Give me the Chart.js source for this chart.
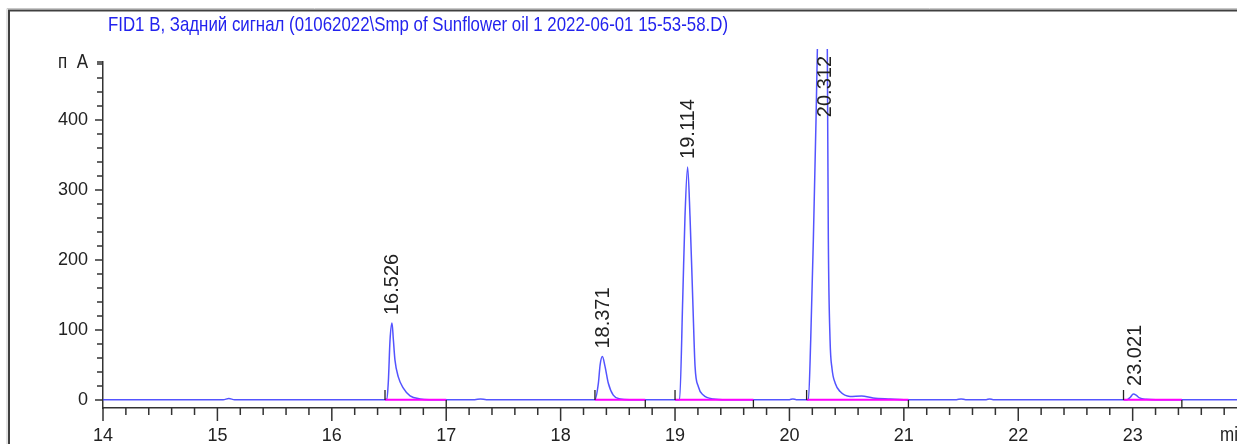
<!DOCTYPE html>
<html>
<head>
<meta charset="utf-8">
<script src="https://cdn.jsdelivr.net/npm/chart.js@4.4.1/dist/chart.umd.min.js"></script>
<style>
  html, body { margin: 0; padding: 0; background: #fff; }
  #wrap { width: 1237px; height: 444px; position: relative; }
</style>
</head>
<body>
<div id="wrap"><canvas id="myChart" width="1237" height="444"></canvas></div>
<script>
// chromatogram trace (min, pA)
var times = [14.00, 15.05, 15.10, 15.15, 16.46, 16.48, 16.494, 16.509, 16.526, 16.538, 16.552, 16.581, 16.625, 16.684, 16.771, 16.85,
    17.25, 17.30, 17.35, 18.30, 18.33, 18.345, 18.365, 18.388, 18.417, 18.46, 18.52, 18.60,
    19.04, 19.067, 19.087, 19.11, 19.131, 19.155, 19.175, 19.204, 19.247, 19.335, 19.45,
    20.00, 20.03, 20.06, 20.166, 20.186, 20.209, 20.233, 20.244, 20.28, 20.312, 20.331, 20.340, 20.355, 20.372, 20.40, 20.443, 20.53, 20.63, 20.73, 20.88, 21.00,
    21.46, 21.50, 21.54, 21.72, 21.75, 21.78, 22.95, 22.98, 23.006, 23.03, 23.06, 23.12, 23.20, 23.92];
var signal = [0.5, 0.5, 2, 0.5, 0.5, 1, 26, 86, 110, 86, 57, 33, 17, 6, 1.5, 0.5,
    0.5, 1.5, 0.5, 0.5, 24, 50, 62, 48, 24, 7, 1.5, 0.5,
    0.5, 143, 262, 333, 262, 143, 48, 19, 7, 1.5, 0.5,
    0.5, 1.5, 0.5, 0.5, 86, 229, 405, 500, 730, 790, 500, 229, 86, 45, 24, 12, 5, 5.7, 3, 1.5, 0.5,
    0.5, 1.5, 0.5, 0.5, 1.5, 0.5, 0.5, 4, 8.6, 7, 3, 1, 0.5, 0.5];

// integration baselines
var baseStart = [16.465, 18.30, 19.00, 20.15, 22.92];
var baseEnd = [17.00, 18.74, 19.685, 21.04, 23.43];

// peak labels
var peakTimes = [16.526, 18.371, 19.114, 20.312, 23.021];
var peakHeights = [110, 62, 333, 790, 8.6];
var peakLabels = ['16.526', '18.371', '19.114', '20.312', '23.021'];

// axes
var xTicks = [14, 15, 16, 17, 18, 19, 20, 21, 22, 23];
var yTicks = [0, 100, 200, 300, 400];

var titleText = 'FID1 B, Задний сигнал (01062022\\Smp of Sunflower oil 1 2022-06-01 15-53-58.D)';
var sans = "'Liberation Sans', Arial, sans-serif";

var datasets = [];
for (var i = 0; i < baseStart.length; i++) {
    datasets.push({
        data: [{x: baseStart[i], y: 0.3}, {x: baseEnd[i], y: 0.3}],
        borderColor: '#ff00ff',
        borderWidth: 2,
        pointRadius: 0,
        showLine: true,
        order: 0
    });
}
datasets.push({
    data: times.map(function (t, i) { return {x: t, y: signal[i]}; }),
    borderColor: 'rgba(40,40,255,0.8)',
    borderWidth: 1.5,
    pointRadius: 0,
    showLine: true,
    cubicInterpolationMode: 'monotone',
    clip: {left: 0, top: 13, right: 0, bottom: 0},
    order: 1
});

// squeezed text, the original uses a condensed face
function narrowText(ctx, text, x, y, size, scaleX, align) {
    ctx.save();
    ctx.font = size + 'px ' + sans;
    ctx.textBaseline = 'middle';
    ctx.textAlign = align;
    ctx.translate(x, y);
    ctx.scale(scaleX, 1);
    ctx.fillText(text, 0, 0);
    ctx.restore();
}

var extras = {
    id: 'extras',
    afterDraw: function (chart) {
        var ctx = chart.ctx;
        var xs = chart.scales.x, ys = chart.scales.y;
        var area = chart.chartArea;
        ctx.save();

        // frame
        ctx.strokeStyle = '#c8c8c8';
        ctx.lineWidth = 1;
        ctx.beginPath();
        ctx.moveTo(7, 444); ctx.lineTo(7, 8.5); ctx.lineTo(1237, 8.5);
        ctx.stroke();
        ctx.strokeStyle = '#404040';
        ctx.lineWidth = 2;
        ctx.beginPath();
        ctx.moveTo(9, 444); ctx.lineTo(9, 10.5); ctx.lineTo(1237, 10.5);
        ctx.stroke();

        // title
        ctx.fillStyle = '#2222ee';
        ctx.font = '21px ' + sans;
        var w = ctx.measureText(titleText).width;
        narrowText(ctx, titleText, 108, 25, 21, 620 / w, 'left');

        // unit labels
        ctx.fillStyle = '#222';
        narrowText(ctx, 'п  А', 88, 62, 20, 0.85, 'right');
        narrowText(ctx, 'min', 1220, 435, 20, 0.85, 'left');

        // axis ticks
        ctx.strokeStyle = '#333';
        ctx.lineWidth = 1.5;
        ctx.beginPath();
        for (var v = 0; v <= 480; v += 20) {
            var py = ys.getPixelForValue(v);
            var len = v % 100 === 0 ? 8 : 6;
            ctx.moveTo(area.left, py); ctx.lineTo(area.left - len, py);
        }
        ctx.moveTo(area.left, area.top); ctx.lineTo(area.left - 6, area.top);
        for (var k = 0; k < 50; k++) {
            var t = 14 + k * 0.2;
            var px = xs.getPixelForValue(t);
            var l = k % 5 === 0 ? 13 : 7;
            ctx.moveTo(px, area.bottom); ctx.lineTo(px, area.bottom + l);
        }
        ctx.stroke();

        // integration markers
        ctx.strokeStyle = '#222';
        ctx.lineWidth = 1.3;
        ctx.beginPath();
        var y0 = ys.getPixelForValue(0);
        baseStart.forEach(function (s) {
            var p = xs.getPixelForValue(s);
            ctx.moveTo(p, y0); ctx.lineTo(p, y0 - 10);
        });
        baseEnd.forEach(function (e) {
            var p = xs.getPixelForValue(e);
            ctx.moveTo(p, y0); ctx.lineTo(p, area.bottom);
        });
        ctx.stroke();

        // peak labels
        ctx.fillStyle = '#222';
        ctx.font = '20px ' + sans;
        ctx.textAlign = 'left';
        ctx.textBaseline = 'middle';
        peakTimes.forEach(function (pt, i) {
            var px = xs.getPixelForValue(pt);
            var tw = ctx.measureText(peakLabels[i]).width;
            var bottom = ys.getPixelForValue(peakHeights[i]) - 8;
            if (bottom - tw < area.top - 12) bottom = area.top - 12 + tw + 6;
            ctx.save();
            ctx.translate(px, bottom);
            ctx.rotate(-Math.PI / 2);
            ctx.fillText(peakLabels[i], 0, 0);
            ctx.restore();
        });
        ctx.restore();
    }
};

var ctx = document.getElementById('myChart').getContext('2d');
var myChart = new Chart(ctx, {
    type: 'scatter',
    data: {datasets: datasets},
    options: {
        responsive: false,
        animation: false,
        events: [],
        layout: {padding: {top: 62, left: 0, right: 0, bottom: 0}},
        plugins: {legend: {display: false}, tooltip: {enabled: false}},
        scales: {
            x: {
                type: 'linear',
                min: 14,
                max: 23.912,
                afterFit: function (s) { s.height = 36; },
                afterBuildTicks: function (s) { s.ticks = xTicks.map(function (v) { return {value: v}; }); },
                grid: {display: true, drawOnChartArea: false, drawTicks: false},
                border: {display: true, color: '#333', width: 1.5},
                ticks: {padding: 17, color: '#222', font: {family: sans, size: 18}, maxRotation: 0, autoSkip: false}
            },
            y: {
                type: 'linear',
                min: -11.43,
                max: 482.86,
                afterFit: function (s) { s.width = 103; },
                afterBuildTicks: function (s) { s.ticks = yTicks.map(function (v) { return {value: v}; }); },
                grid: {display: true, drawOnChartArea: false, drawTicks: false},
                border: {display: true, color: '#333', width: 1.5},
                ticks: {padding: 15, color: '#222', font: {family: sans, size: 18}}
            }
        }
    },
    plugins: [extras]
});
</script>
</body>
</html>
